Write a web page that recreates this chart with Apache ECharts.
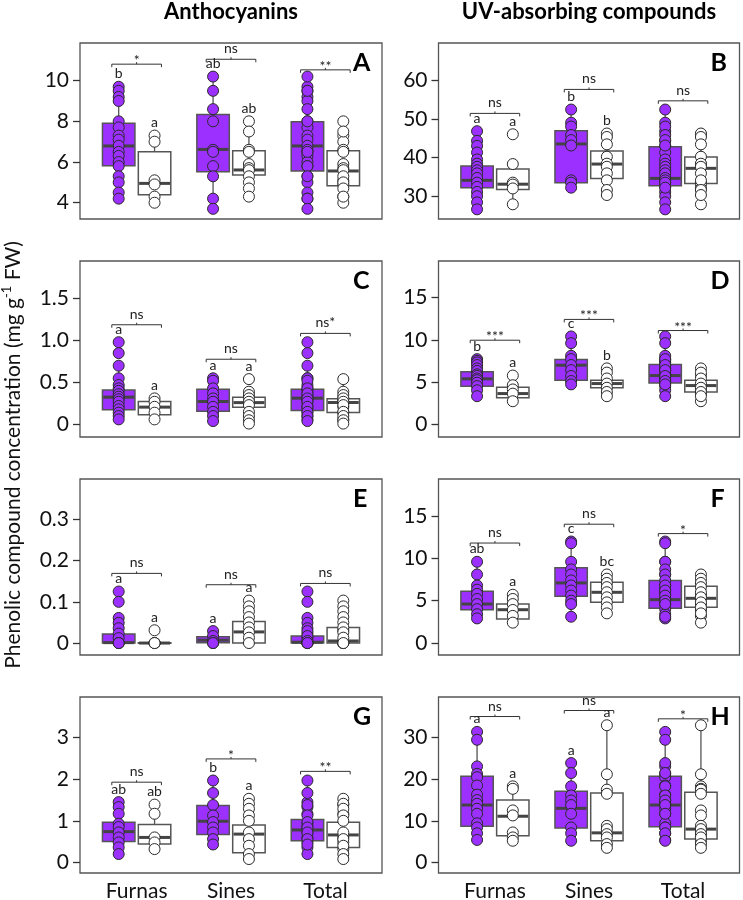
<!DOCTYPE html>
<html><head><meta charset="utf-8">
<script src="https://cdn.jsdelivr.net/npm/echarts@6/dist/echarts.min.js"></script>
<style>html,body{margin:0;padding:0;background:#fff}#c{width:743px;height:900px}</style>
</head><body><div id="c"></div><script>
// ---------- DATA ----------
const categories = ['Furnas', 'Sines', 'Total'];
const columnTitles = ['Anthocyanins', 'UV-absorbing compounds'];
const yAxisTitle = ['Phenolic compound concentration (mg g', '-1', ' FW)'];

// Box stats: [min(whisker), q1, median, q3, max(whisker)] for Furnas, Sines, Total
// Panel A
const A_purple_Furnas = [9.7, 9.5, 9.2, 9.0, 8.0, 7.7, 7.3, 7.1, 6.8, 6.5, 6.3, 6.0, 5.8, 5.3, 5.0, 4.5, 4.2];
const A_purple_Sines = [10.2, 9.5, 8.6, 8.0, 6.6, 6.5, 5.8, 5.3, 4.2, 3.7];
const A_white_Furnas = [7.3, 7.0, 5.1, 4.9, 4.3, 4.0];
const A_white_Sines = [8.0, 7.5, 6.6, 6.5, 5.9, 5.7, 5.6, 5.3, 5.0, 4.7, 4.3];
const A_purple_box = [[4.2, 5.82, 6.79, 7.9, 9.7], [3.7, 5.52, 6.62, 8.34, 10.2], [3.7, 5.56, 6.79, 7.98, 10.2]];
const A_white_box = [[4.0, 4.39, 4.95, 6.51, 7.3], [4.3, 5.36, 5.61, 6.56, 8.0], [4.0, 4.84, 5.56, 6.56, 8.0]];
const A_letters = [['b', 'a'], ['ab', 'ab'], ['', '']];
const A_sig = ['*', 'ns', '**'];
const A_bracket = [10.81, 11.05, 10.53];
const A_yTicks = [4, 6, 8, 10];
const A_yTickLabels = ['4', '6', '8', '10'];
const A_yRange = [3.2, 11.85];

// Panel B
const B_purple_Furnas = [46.8, 44.3, 43.0, 41.3, 39.5, 38.4, 37.6, 36.7, 35.9, 34.7, 33.5, 32.4, 31.1, 30.0, 28.4, 26.6];
const B_purple_Sines = [52.4, 49.0, 48.0, 45.8, 44.5, 43.1, 34.1, 33.5, 32.2];
const B_white_Furnas = [46.0, 38.3, 33.5, 33.0, 32.0, 27.9];
const B_white_Sines = [46.2, 45.3, 43.4, 40.2, 38.4, 37.6, 35.9, 34.1, 31.6, 30.3];
const B_purple_box = [[26.6, 32.2, 34.1, 37.8, 46.8], [32.2, 33.5, 43.5, 46.9, 52.4], [26.6, 32.7, 34.6, 42.8, 52.4]];
const B_white_box = [[27.9, 31.7, 33.1, 37.0, 38.3], [30.3, 34.6, 38.3, 41.65, 46.2], [27.9, 33.3, 37.2, 40.1, 46.2]];
const B_letters = [['a', 'a'], ['b', 'b'], ['', '']];
const B_sig = ['ns', 'ns', 'ns'];
const B_bracket = [51.4, 57.6, 54.65];
const B_yTicks = [30, 40, 50, 60];
const B_yTickLabels = ['30', '40', '50', '60'];
const B_yRange = [24.1, 69.6];

// Panel C
const C_purple_Furnas = [0.98, 0.85, 0.70, 0.55, 0.47, 0.43, 0.40, 0.36, 0.33, 0.30, 0.27, 0.22, 0.18, 0.14, 0.10, 0.06];
const C_purple_Sines = [0.55, 0.52, 0.43, 0.37, 0.31, 0.27, 0.21, 0.15, 0.10, 0.04];
const C_white_Furnas = [0.31, 0.27, 0.21, 0.14, 0.06];
const C_white_Sines = [0.54, 0.39, 0.35, 0.31, 0.27, 0.23, 0.15, 0.10, 0.05, 0.01];
const C_purple_box = [[0.06, 0.174, 0.325, 0.41, 0.70], [0.04, 0.158, 0.273, 0.42, 0.55], [0.04, 0.166, 0.313, 0.42, 0.70]];
const C_white_box = [[0.06, 0.115, 0.206, 0.273, 0.31], [0.05, 0.206, 0.26, 0.325, 0.39], [0.01, 0.142, 0.261, 0.305, 0.54]];
const C_letters = [['a', 'a'], ['a', 'a'], ['', '']];
const C_sig = ['ns', 'ns', 'ns*'];
const C_bracket = [1.188, 0.777, 1.085];
const C_yTicks = [0, 0.5, 1.0, 1.5];
const C_yTickLabels = ['0', '0.5', '1.0', '1.5'];
const C_yRange = [-0.15, 1.948];

// Panel D
const D_purple_Furnas = [7.7, 7.5, 7.3, 7.0, 6.6, 6.3, 5.9, 5.7, 5.4, 5.2, 4.9, 4.5, 4.0, 3.3];
const D_purple_Sines = [10.4, 9.6, 8.1, 7.7, 7.0, 6.4, 5.7, 5.1, 4.7];
const D_white_Furnas = [5.75, 4.6, 4.1, 3.6, 2.7];
const D_white_Sines = [6.6, 6.1, 5.4, 4.8, 4.3, 3.8, 3.3];
const D_purple_box = [[3.3, 4.48, 5.36, 6.19, 7.7], [4.7, 5.2, 6.98, 7.66, 10.4], [3.3, 4.88, 5.75, 7.06, 10.4]];
const D_white_box = [[2.7, 3.1, 3.61, 4.37, 5.75], [3.3, 4.29, 4.8, 5.2, 6.6], [2.7, 3.81, 4.56, 5.2, 6.6]];
const D_letters = [['b', 'a'], ['c', 'b'], ['', '']];
const D_sig = ['***', '***', '***'];
const D_bracket = [9.95, 12.42, 11.1];
const D_yTicks = [0, 5, 10, 15];
const D_yTickLabels = ['0', '5', '10', '15'];
const D_yRange = [-1.55, 19.36];

// Panel E
const E_purple_Furnas = [0.125, 0.1, 0.061, 0.049, 0.036, 0.023, 0.012, 0, 0, 0];
const E_purple_Sines = [0.029, 0.017, 0.005, 0, 0];
const E_white_Furnas = [0.031, 0, 0, 0, 0];
const E_white_Sines = [0.103, 0.089, 0.077, 0.063, 0.05, 0.038, 0.026, 0.013, 0];
const E_purple_box = [[0, 0, 0.001, 0.022, 0.049], [0, 0.001, 0.007, 0.015, 0.029], [0, 0, 0.002, 0.017, 0.036]];
const E_white_box = [[0, 0, 0, 0.001, 0.001], [0, 0, 0.027, 0.052, 0.103], [0, 0, 0.005, 0.038, 0.103]];
const E_letters = [['a', 'a'], ['a', 'a'], ['', '']];
const E_sig = ['ns', 'ns', 'ns'];
const E_bracket = [0.169, 0.1415, 0.1446];
const E_yTicks = [0, 0.1, 0.2, 0.3];
const E_yTickLabels = ['0', '0.1', '0.2', '0.3'];
const E_yRange = [-0.029, 0.398];

// Panel F
const F_purple_Furnas = [9.6, 8.1, 6.8, 6.3, 5.8, 5.2, 4.6, 4.0, 3.4, 2.9];
const F_purple_Sines = [12.0, 11.8, 9.6, 8.7, 8.1, 7.4, 6.8, 6.2, 5.6, 5.0, 4.6, 3.1];
const F_white_Furnas = [5.7, 5.2, 4.6, 3.9, 3.2, 2.4];
const F_white_Sines = [8.1, 7.6, 7.1, 6.6, 6.0, 5.4, 4.8, 4.2, 3.5];
const F_purple_box = [[2.9, 3.93, 4.6, 6.11, 9.6], [3.1, 5.52, 7.1, 8.89, 12.0], [2.9, 4.09, 5.12, 7.38, 12.0]];
const F_white_box = [[2.4, 2.82, 3.93, 4.6, 5.7], [3.5, 4.8, 5.99, 7.18, 8.1], [2.4, 4.21, 5.28, 6.71, 8.1]];
const F_letters = [['ab', 'a'], ['c', 'bc'], ['', '']];
const F_sig = ['ns', 'ns', '*'];
const F_bracket = [11.82, 14.05, 12.94];
const F_yTicks = [0, 5, 10, 15];
const F_yTickLabels = ['0', '5', '10', '15'];
const F_yRange = [-1.43, 19.4];

// Panel G
const G_purple_Furnas = [1.45, 1.33, 1.17, 0.93, 0.85, 0.72, 0.6, 0.48, 0.36, 0.2];
const G_purple_Sines = [1.97, 1.67, 1.38, 1.13, 0.97, 0.84, 0.72, 0.56, 0.43];
const G_white_Furnas = [1.39, 1.17, 0.6, 0.48, 0.32];
const G_white_Sines = [1.53, 1.41, 1.29, 1.13, 1.0, 0.72, 0.56, 0.4, 0.2, 0.08];
const G_purple_box = [[0.2, 0.5, 0.74, 0.965, 1.45], [0.43, 0.67, 0.99, 1.37, 1.97], [0.2, 0.52, 0.78, 1.03, 1.97]];
const G_white_box = [[0.32, 0.44, 0.6, 0.91, 1.39], [0.08, 0.233, 0.68, 0.9, 1.53], [0.08, 0.36, 0.66, 0.965, 1.53]];
const G_letters = [['ab', 'ab'], ['b', 'a'], ['', '']];
const G_sig = ['ns', '*', '**'];
const G_bracket = [1.93, 2.49, 2.19];
const G_yTicks = [0, 1, 2, 3];
const G_yTickLabels = ['0', '1', '2', '3'];
const G_yRange = [-0.256, 3.98];

// Panel H
const H_purple_Furnas = [31.4, 29.5, 23.1, 21.3, 20.5, 18.5, 16.3, 15.0, 14.1, 12.9, 11.7, 9.4, 8.4, 7.0, 5.4];
const H_purple_Sines = [23.9, 21.5, 18.3, 16.1, 14.9, 13.8, 11.7, 8.4, 7.0, 5.2];
const H_white_Furnas = [18.3, 17.7, 12.5, 11.3, 7.2, 6.0, 5.2];
const H_white_Sines = [33.0, 21.2, 17.5, 16.5, 8.8, 8.0, 6.8, 6.0, 4.4, 3.5];
const H_purple_box = [[5.4, 8.7, 13.8, 20.7, 31.4], [5.2, 8.3, 13.0, 17.1, 23.9], [5.2, 8.6, 13.8, 20.7, 31.4]];
const H_white_box = [[5.2, 6.4, 11.1, 15.0, 18.3], [3.5, 5.2, 7.1, 16.7, 33.0], [3.5, 5.6, 8.0, 16.9, 33.0]];
const H_letters = [['a', 'a'], ['a', 'a'], ['', '']];
const H_sig = ['ns', 'ns', '*'];
const H_bracket = [35.1, 36.55, 34.55];
const H_yTicks = [0, 10, 20, 30];
const H_yTickLabels = ['0', '10', '20', '30'];
const H_yRange = [-2.56, 39.8];

// ---------- BUILD ----------
const panels = [
  {id:'A', pF:A_purple_Furnas, pS:A_purple_Sines, wF:A_white_Furnas, wS:A_white_Sines, pBox:A_purple_box, wBox:A_white_box, letters:A_letters, sig:A_sig, bracket:A_bracket, ticks:A_yTicks, tickLabels:A_yTickLabels, range:A_yRange},
  {id:'B', pF:B_purple_Furnas, pS:B_purple_Sines, wF:B_white_Furnas, wS:B_white_Sines, pBox:B_purple_box, wBox:B_white_box, letters:B_letters, sig:B_sig, bracket:B_bracket, ticks:B_yTicks, tickLabels:B_yTickLabels, range:B_yRange},
  {id:'C', pF:C_purple_Furnas, pS:C_purple_Sines, wF:C_white_Furnas, wS:C_white_Sines, pBox:C_purple_box, wBox:C_white_box, letters:C_letters, sig:C_sig, bracket:C_bracket, ticks:C_yTicks, tickLabels:C_yTickLabels, range:C_yRange},
  {id:'D', pF:D_purple_Furnas, pS:D_purple_Sines, wF:D_white_Furnas, wS:D_white_Sines, pBox:D_purple_box, wBox:D_white_box, letters:D_letters, sig:D_sig, bracket:D_bracket, ticks:D_yTicks, tickLabels:D_yTickLabels, range:D_yRange},
  {id:'E', pF:E_purple_Furnas, pS:E_purple_Sines, wF:E_white_Furnas, wS:E_white_Sines, pBox:E_purple_box, wBox:E_white_box, letters:E_letters, sig:E_sig, bracket:E_bracket, ticks:E_yTicks, tickLabels:E_yTickLabels, range:E_yRange},
  {id:'F', pF:F_purple_Furnas, pS:F_purple_Sines, wF:F_white_Furnas, wS:F_white_Sines, pBox:F_purple_box, wBox:F_white_box, letters:F_letters, sig:F_sig, bracket:F_bracket, ticks:F_yTicks, tickLabels:F_yTickLabels, range:F_yRange},
  {id:'G', pF:G_purple_Furnas, pS:G_purple_Sines, wF:G_white_Furnas, wS:G_white_Sines, pBox:G_purple_box, wBox:G_white_box, letters:G_letters, sig:G_sig, bracket:G_bracket, ticks:G_yTicks, tickLabels:G_yTickLabels, range:G_yRange},
  {id:'H', pF:H_purple_Furnas, pS:H_purple_Sines, wF:H_white_Furnas, wS:H_white_Sines, pBox:H_purple_box, wBox:H_white_box, letters:H_letters, sig:H_sig, bracket:H_bracket, ticks:H_yTicks, tickLabels:H_yTickLabels, range:H_yRange}
];

const PURPLE = '#9B30FF';
const BOXLINE = '#555555';
const MEDIAN = '#444444';
const FONT = 'Lato';
const OFF = 0.19, HALF = 0.172, BR = 0.263;
const colLeft = [80, 438.5], colWidth = [302, 301];
const rowTop = [43, 261, 479, 697], rowHeight = 176;

function renderBox(params, api) {
  const xc = api.value(0), side = api.value(1);
  const xl = api.coord([xc - HALF, 0])[0], xr = api.coord([xc + HALF, 0])[0], xm = api.coord([xc, 0])[0];
  const y = k => api.coord([xc, api.value(k)])[1];
  const yMin = y(2), yQ1 = y(3), yMed = y(4), yQ3 = y(5), yMax = y(6);
  const line = (x1, y1, x2, y2, w, c) => ({type:'line', shape:{x1, y1, x2, y2}, style:{stroke:c, lineWidth:w}});
  return {type:'group', children:[
    line(xm, yMin, xm, yQ1, 1.3, BOXLINE),
    line(xm, yQ3, xm, yMax, 1.3, BOXLINE),
    {type:'rect', shape:{x:xl, y:yQ3, width:xr - xl, height:Math.max(yQ1 - yQ3, 0.5)},
     style:{fill: side ? '#ffffff' : PURPLE, stroke:BOXLINE, lineWidth:1.5}},
    line(xl + 0.8, yMed, xr - 0.8, yMed, 3, MEDIAN)
  ]};
}

function makeAnn(p) {
  return function (params, api) {
    const g = params.dataIndex;
    const xc = api.value(0);
    const by = api.coord([xc, api.value(1)])[1];
    const x1 = api.coord([xc - BR, 0])[0], x2 = api.coord([xc + BR, 0])[0], xm = api.coord([xc, 0])[0];
    const s = p.sig[g];
    const children = [
      {type:'polyline', shape:{points:[[x1, by + 3], [x1, by], [x2, by], [x2, by + 3]]}, style:{stroke:'#333', lineWidth:1, fill:null}},
      {type:'line', shape:{x1:xm, y1:by, x2:xm, y2:by - 2}, style:{stroke:'#333', lineWidth:1}},
      {type:'text', style:{text:s, x:xm, y:by + (s.indexOf('ns') >= 0 ? -10.5 : -3.5), align:'center', verticalAlign:'middle', fontFamily:FONT, fontSize:14, fill:'#222'}}
    ];
    const L = p.letters[g];
    [0, 1].forEach(si => {
      if (L[si]) {
        const xs = api.coord([xc + (si ? OFF : -OFF), 0])[0];
        const ys = api.coord([xc, api.value(2 + si)])[1] - 13;
        children.push({type:'text', style:{text:L[si], x:xs, y:ys, align:'center', verticalAlign:'middle', fontFamily:FONT, fontSize:14, fill:'#222'}});
      }
    });
    return {type:'group', children};
  };
}

const grid = [], xAxis = [], yAxis = [], series = [], graphic = [];
panels.forEach((p, i) => {
  const row = Math.floor(i / 2), col = i % 2;
  grid.push({left:colLeft[col], top:rowTop[row], width:colWidth[col], height:rowHeight,
    show:true, borderColor:'#555', borderWidth:1.3, backgroundColor:'transparent', containLabel:false, outerBoundsMode:'none'});
  xAxis.push({type:'value', gridIndex:i, min:0.4, max:3.6, axisLine:{show:false}, axisTick:{show:false}, splitLine:{show:false},
    axisLabel: row === 3 ? {show:true, customValues:[1, 2, 3], formatter:v => categories[Math.round(v) - 1], fontFamily:FONT, fontSize:21, color:'#111', margin:8} : {show:false}});
  yAxis.push({type:'value', gridIndex:i, min:p.range[0], max:p.range[1], axisLine:{show:false}, splitLine:{show:false},
    axisTick:{show:true, customValues:p.ticks, length:7, lineStyle:{color:'#333', width:1.3}},
    axisLabel:{show:true, customValues:p.ticks, fontFamily:FONT, fontSize:21, color:'#111', margin:11,
      formatter:v => { const k = p.ticks.findIndex(t => Math.abs(t - v) < 1e-9); return k >= 0 ? p.tickLabels[k] : ''; }}});

  const pts = {purple:[p.pF, p.pS, p.pF.concat(p.pS)], white:[p.wF, p.wS, p.wF.concat(p.wS)]};
  const boxData = [];
  [0, 1, 2].forEach(g => {
    boxData.push([g + 1 - OFF, 0].concat(p.pBox[g]));
    boxData.push([g + 1 + OFF, 1].concat(p.wBox[g]));
  });
  series.push({type:'custom', xAxisIndex:i, yAxisIndex:i, renderItem:renderBox, data:boxData, encode:{x:0, y:[2, 6]}, z:2, silent:true, clip:false});
  ['purple', 'white'].forEach((c, ci) => {
    const data = [];
    [0, 1, 2].forEach(g => pts[c][g].forEach(v => data.push([g + 1 + (ci ? OFF : -OFF), v])));
    series.push({type:'scatter', xAxisIndex:i, yAxisIndex:i, data, symbol:'circle', symbolSize:11,
      itemStyle:{color: ci ? '#ffffff' : PURPLE, borderColor:'#2a2a2a', borderWidth:1, opacity:1}, z:3, silent:true});
  });
  const annData = [0, 1, 2].map(g => [g + 1, p.bracket[g], Math.max(...pts.purple[g]), Math.max(...pts.white[g])]);
  series.push({type:'custom', xAxisIndex:i, yAxisIndex:i, renderItem:makeAnn(p), data:annData, encode:{x:0, y:1}, z:4, silent:true, clip:false});

  graphic.push({type:'text', left: colLeft[col] + colWidth[col] - 9 - 20, top: rowTop[row] + 7,
    style:{text:p.id, fontFamily:FONT, fontWeight:'bold', fontSize:25, fill:'#000', align:'right', width:20}});
});

// column titles
graphic.push({type:'text', x: colLeft[0] + colWidth[0] / 2, y: 12, style:{text:columnTitles[0], fontFamily:FONT, fontWeight:'bold', fontSize:22, fill:'#000', align:'center', verticalAlign:'middle'}});
graphic.push({type:'text', x: colLeft[1] + colWidth[1] / 2, y: 12, style:{text:columnTitles[1], fontFamily:FONT, fontWeight:'bold', fontSize:22, fill:'#000', align:'center', verticalAlign:'middle'}});
// y axis title
graphic.push({type:'text', x: 13, y: 455, rotation: Math.PI / 2,
  style:{text:'{n|' + yAxisTitle[0] + '}{s|' + yAxisTitle[1] + '}{n|' + yAxisTitle[2] + '}', align:'center', verticalAlign:'middle',
    rich:{n:{fontFamily:FONT, fontSize:21, fill:'#111', lineHeight:25}, s:{fontFamily:FONT, fontSize:13, fill:'#111', verticalAlign:'top', lineHeight:15}}}});

const chart = echarts.init(document.getElementById('c'), null, {renderer:'canvas'});
chart.setOption({animation:false, backgroundColor:'#fff', grid, xAxis, yAxis, series, graphic});
</script></body></html>
